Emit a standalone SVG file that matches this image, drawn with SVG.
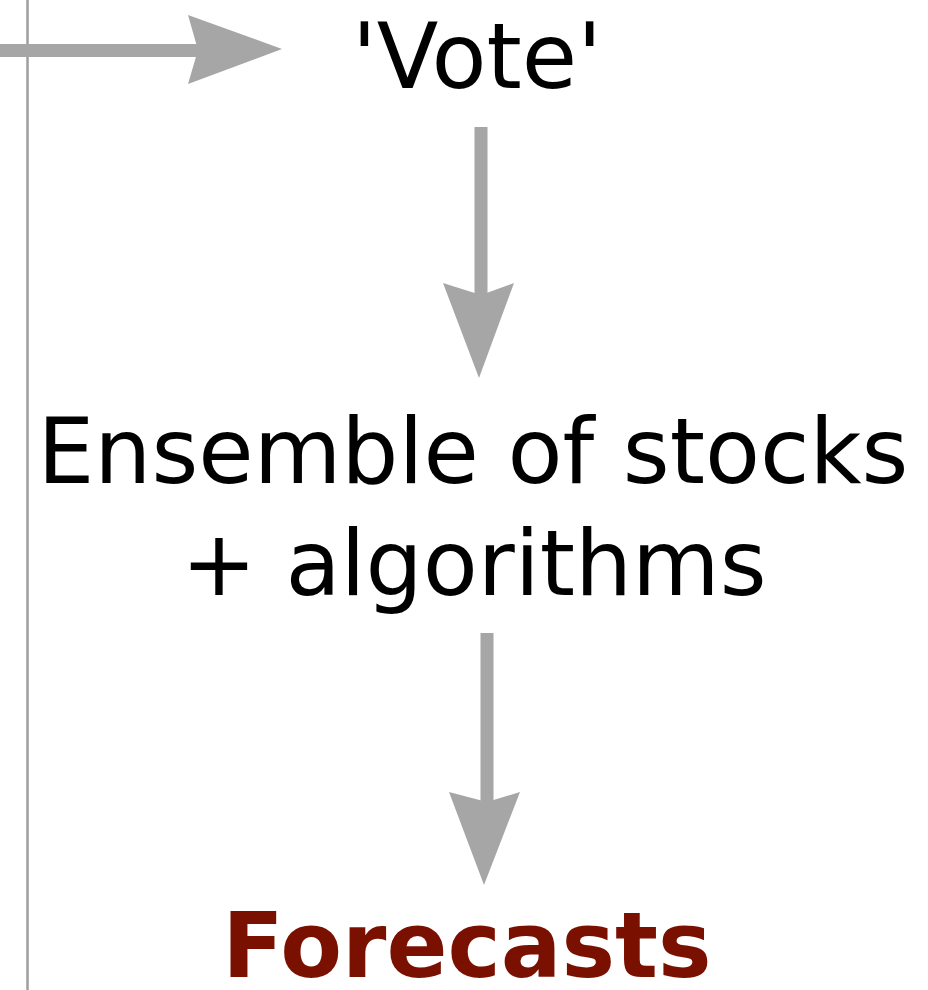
<svg xmlns="http://www.w3.org/2000/svg" width="928" height="990" viewBox="0 0 928 990">
  <style>
    .lbl { font-family: "DejaVu Sans", Verdana, sans-serif; font-size: 90px; fill: #000; text-anchor: middle; }
    .out { font-weight: bold; fill: #7a1000; }
    .shaft { stroke: #a6a6a6; stroke-width: 13; fill: none; }
    .head { fill: #a6a6a6; }
    .rule { stroke: #9e9e9e; stroke-width: 2.5; }
  </style>
  <rect width="928" height="990" fill="#fff"/>

  <g id="connectors">
    <line class="rule" x1="27.5" y1="0" x2="27.5" y2="990"/>
    <!-- incoming arrow to Vote -->
    <line class="shaft" x1="0" y1="50.5" x2="200" y2="50.5"/>
    <polygon class="head" points="188,15 282,49 188,84 198,50"/>
    <!-- Vote to Ensemble -->
    <line class="shaft" x1="481" y1="127" x2="481" y2="297"/>
    <polygon class="head" points="443,283 479,378 514,283 481,295"/>
    <!-- Ensemble to Forecasts -->
    <line class="shaft" x1="487" y1="633" x2="487" y2="804"/>
    <polygon class="head" points="449,792 484,885 520,792 487,802"/>
  </g>

  <g id="vote">
    <text class="lbl" x="477" y="88">'Vote'</text>
  </g>
  <g id="ensemble">
    <text class="lbl" x="473" y="483">Ensemble of stocks</text>
    <text class="lbl" x="474" y="595">+ algorithms</text>
  </g>
  <g id="forecasts">
    <text class="lbl out" x="467" y="977">Forecasts</text>
  </g>
</svg>
